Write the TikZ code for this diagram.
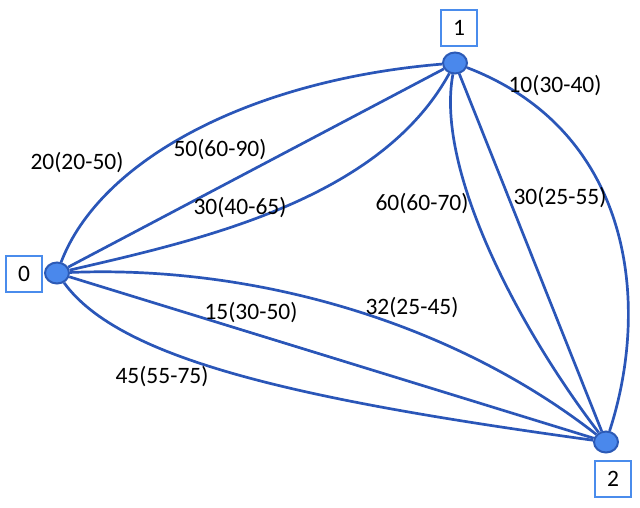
\documentclass[tikz,border=0pt]{standalone}
\usepackage{fontspec}
\setmainfont{Carlito}
\usetikzlibrary{shapes.geometric}
\definecolor{edgeblue}{RGB}{42,86,184}
\definecolor{vfill}{RGB}{74,136,236}
\definecolor{vdraw}{RGB}{44,90,182}
\definecolor{boxblue}{RGB}{74,140,236}
\tikzset{
  vertex/.style={ellipse, minimum width=24pt, minimum height=21pt, inner sep=0pt, fill=vfill, draw=vdraw, line width=2pt},
  tagbox/.style={draw=boxblue, line width=2.6pt, fill=white, minimum width=36pt, minimum height=36pt, inner sep=0pt, font=\fontsize{23.5}{27}\selectfont},
  wlabel/.style={inner sep=0pt, font=\fontsize{23.5}{27}\selectfont},
  edge/.style={draw=edgeblue, line width=2.7pt}
}
\begin{document}
\begin{tikzpicture}[x=1pt,y=-1pt]
\useasboundingbox (0,0) rectangle (640,507);
% vertices
\node[vertex] (v0) at (57,273) {};
\node[vertex] (v1) at (455,63) {};
\node[vertex] (v2) at (606,442) {};
% 0-1
\draw[edge] (v0) .. controls (100,160) and (250,80) .. (v1);
\draw[edge] (v0) -- (v1);
\draw[edge] (v0) .. controls (200,240) and (380,200) .. (v1);
% 1-2
\draw[edge] (v1) .. controls (435,170) and (520,330) .. (v2);
\draw[edge] (v1) -- (v2);
\draw[edge] (v1) .. controls (630,130) and (652,300) .. (v2);
% 0-2
\draw[edge] (v0) .. controls (250,265) and (450,320) .. (v2);
\draw[edge] (v0) -- (v2);
\draw[edge] (v0) .. controls (120,360) and (300,400) .. (v2);
% tag boxes
\node[tagbox] (t0) at (24,274) {0};
\node[tagbox] (t1) at (459,28) {1};
\node[tagbox] (t2) at (613,479) {2};
% weight labels
\node[wlabel] (l1) at (77,163) {20(20-50)};
\node[wlabel] (l2) at (220,150) {50(60-90)};
\node[wlabel] (l3) at (240,208) {30(40-65)};
\node[wlabel] (l4) at (422,204) {60(60-70)};
\node[wlabel] (l5) at (560,198) {30(25-55)};
\node[wlabel] (l6) at (555,86) {10(30-40)};
\node[wlabel] (l7) at (251,313) {15(30-50)};
\node[wlabel] (l8) at (412,308) {32(25-45)};
\node[wlabel] (l9) at (162,377) {45(55-75)};
\end{tikzpicture}
\end{document}
